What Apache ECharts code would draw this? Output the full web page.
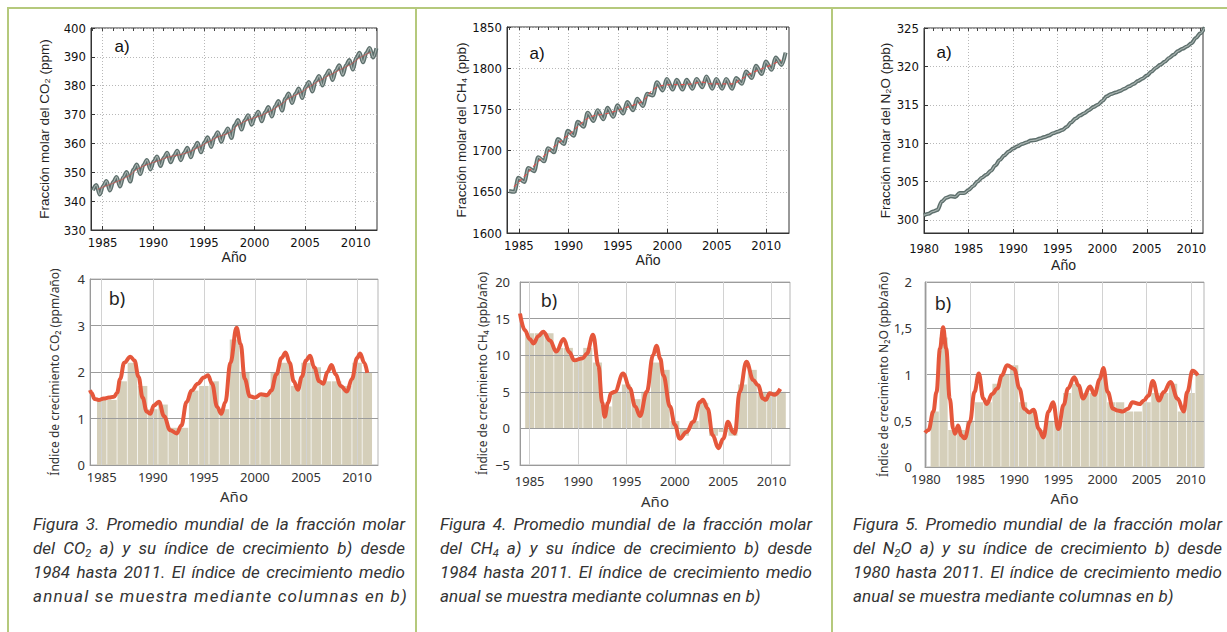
<!DOCTYPE html>
<html>
<head>
<meta charset="utf-8">
<script src="https://cdn.jsdelivr.net/npm/echarts@6/dist/echarts.min.js"></script>
<style>
  body { margin: 0; background: #fff; }
  #wrap { position: relative; width: 1227px; height: 632px; overflow: hidden; background: #fff; }
  #chart { position: absolute; left: 0; top: 0; width: 1227px; height: 632px; }
  .rule { position: absolute; background: #b5c97c; }
  .cap { position: absolute; height: 24px; line-height: 24px; white-space: nowrap;
         font-family: Roboto, 'Liberation Sans', sans-serif; font-style: italic; font-size: 17px; color: #333; }
  .cap.j { text-align: justify; text-align-last: justify; }
  .cap sub { font-size: 11px; line-height: 0; vertical-align: -3px; }
</style>
</head>
<body>
<div id="wrap">
  <div id="chart"></div>
  <div class="rule" style="left:7px;top:7px;width:1220px;height:2px"></div>
  <div class="rule" style="left:7px;top:7px;width:2px;height:625px"></div>
  <div class="rule" style="left:415px;top:7px;width:2px;height:625px"></div>
  <div class="rule" style="left:831px;top:7px;width:2px;height:625px"></div>

  <div class="cap j" style="left:33px;top:512px;width:372px">Figura 3. Promedio mundial de la fracción molar</div>
  <div class="cap j" style="left:33px;top:536px;width:372px">del CO<sub>2</sub> a) y su índice de crecimiento b) desde</div>
  <div class="cap j" style="left:33px;top:560px;width:372px">1984 hasta 2011. El índice de crecimiento medio</div>
  <div class="cap j" style="left:33px;top:584px;width:370px;letter-spacing:1.2px">annual se muestra mediante columnas en b)</div>

  <div class="cap j" style="left:440px;top:512px;width:372px">Figura 4. Promedio mundial de la fracción molar</div>
  <div class="cap j" style="left:440px;top:536px;width:372px">del CH<sub>4</sub> a) y su índice de crecimiento b) desde</div>
  <div class="cap j" style="left:440px;top:560px;width:372px">1984 hasta 2011. El índice de crecimiento medio</div>
  <div class="cap" style="left:440px;top:584px;letter-spacing:0.1px">anual se muestra mediante columnas en b)</div>

  <div class="cap j" style="left:853px;top:512px;width:369px">Figura 5. Promedio mundial de la fracción molar</div>
  <div class="cap j" style="left:853px;top:536px;width:369px">del N<sub>2</sub>O a) y su índice de crecimiento b) desde</div>
  <div class="cap j" style="left:853px;top:560px;width:369px">1980 hasta 2011. El índice de crecimiento medio</div>
  <div class="cap" style="left:853px;top:584px;letter-spacing:0.1px">anual se muestra mediante columnas en b)</div>
</div>

<script>
// ---- data ----
const years = [1984, 1985, 1986, 1987, 1988, 1989, 1990, 1991, 1992, 1993, 1994, 1995, 1996, 1997,
  1998, 1999, 2000, 2001, 2002, 2003, 2004, 2005, 2006, 2007, 2008, 2009, 2010, 2011];

// CO2 (ppm): January, seasonal max (~May), seasonal min (~Sep), annual mean
const co2Jan = [343.8, 345.2, 346.6, 348.3, 350.9, 352.5, 353.7, 355.0, 355.7, 356.7, 358.4, 360.3, 362.1, 363.4,
  366.3, 368.0, 369.2, 370.8, 372.9, 375.5, 377.2, 379.5, 381.6, 383.5, 385.3, 387.1, 389.6, 391.3, 393.0];
const co2Peak = [345.6, 347.0, 348.4, 350.1, 352.7, 354.3, 355.5, 356.8, 357.5, 358.5, 360.2, 362.1, 363.9, 365.2,
  368.1, 369.8, 371.0, 372.6, 374.7, 377.3, 379.0, 381.3, 383.4, 385.3, 387.1, 388.9, 391.4, 393.1];
const co2Trough = [342.3, 343.7, 345.1, 346.8, 349.4, 351.0, 352.2, 353.5, 354.2, 355.2, 356.9, 358.8, 360.6, 361.9,
  364.8, 366.5, 367.7, 369.3, 371.4, 374.0, 375.7, 378.0, 380.1, 382.0, 383.8, 385.6, 388.1, 389.8];
const co2Mean = [344.1, 345.5, 346.9, 348.6, 351.2, 352.8, 354.0, 355.3, 356.0, 357.0, 358.7, 360.6, 362.4, 363.7,
  366.6, 368.3, 369.5, 371.1, 373.2, 375.8, 377.5, 379.8, 381.9, 383.8, 385.6, 387.4, 389.9, 391.6];

// CH4 (ppb): seasonal min (~Jul), seasonal max (~Dec), annual mean
const ch4First = [1984.0, 1651];
const ch4Min = [1650, 1662, 1675, 1687, 1698, 1708, 1718, 1729, 1736, 1738, 1741, 1745, 1749, 1754,
  1767, 1773, 1774, 1774, 1775, 1777, 1775, 1775, 1775, 1781, 1788, 1793, 1798, 1804];
const ch4Max = [1667, 1679, 1692, 1703, 1714, 1724, 1735, 1746, 1749, 1752, 1755, 1759, 1763, 1769,
  1783, 1787, 1786, 1786, 1787, 1790, 1787, 1787, 1788, 1796, 1803, 1808, 1813, 1819];
const ch4Mean = [1656, 1668, 1681, 1693, 1704, 1714, 1724, 1735, 1742, 1744, 1747, 1751, 1755, 1760,
  1773, 1779, 1780, 1780, 1781, 1783, 1781, 1781, 1781, 1787, 1794, 1799, 1804, 1810];

// N2O (ppb), every half year from 1980.0
const n2oStart = 1980;
const n2oValues = [300.6, 300.8, 301.1, 301.3, 302.4, 302.9, 303.1, 303.0, 303.5, 303.5, 303.9, 304.4,
  305.0, 305.5, 305.9, 306.4, 307.1, 307.8, 308.4, 308.9, 309.3, 309.6, 309.9, 310.1, 310.35, 310.4,
  310.6, 310.8, 311.0, 311.3, 311.5, 311.7, 312.1, 312.7, 313.2, 313.6, 313.9, 314.3, 314.7, 315.0,
  315.5, 316.1, 316.4, 316.6, 316.8, 317.1, 317.4, 317.7, 318.1, 318.4, 318.8, 319.3, 319.8, 320.2,
  320.6, 321.1, 321.5, 322.0, 322.3, 322.6, 323.0, 323.7, 324.3, 325.1];

// annual growth rate columns
const rateYears = [1985, 1986, 1987, 1988, 1989, 1990, 1991, 1992, 1993, 1994, 1995, 1996, 1997, 1998,
  1999, 2000, 2001, 2002, 2003, 2004, 2005, 2006, 2007, 2008, 2009, 2010, 2011];
const co2Rate = [1.4, 1.4, 1.8, 2.2, 1.7, 1.2, 1.3, 0.8, 0.8, 1.6, 1.7, 1.8, 1.2, 2.7,
  2.0, 1.4, 1.5, 2.0, 2.2, 1.7, 2.2, 2.1, 1.8, 1.8, 1.7, 2.2, 2.0];
const ch4Rate = [13, 13, 13, 11, 11, 9.5, 11, 9, 3, 5, 6, 4, 5, 9,
  8, 1, -1, 1, 3.5, -1, -0.5, -1, 6, 8, 5, 5, 5];
const n2oRateYears = [1981, 1982, 1983, 1984, 1985, 1986, 1987, 1988, 1989, 1990, 1991, 1992, 1993, 1994,
  1995, 1996, 1997, 1998, 1999, 2000, 2001, 2002, 2003, 2004, 2005, 2006, 2007, 2008, 2009, 2010, 2011];
const n2oRate = [0.6, 1.4, 0.4, 0.4, 0.5, 0.7, 0.7, 0.9, 1.0, 1.1, 0.7, 0.6, 0.4, 0.5,
  0.5, 0.8, 0.9, 0.8, 0.8, 1.0, 0.7, 0.7, 0.6, 0.6, 0.7, 0.8, 0.8, 0.9, 0.6, 0.8, 1.0];

// smoothed growth rate curves [year, rate]
const co2RateCurve = [[1983.85, 1.61], [1984.0, 1.55], [1984.3, 1.42], [1984.7, 1.40], [1985.2, 1.43], [1985.7, 1.45],
  [1986.2, 1.47], [1986.5, 1.55], [1986.8, 1.85], [1987.2, 2.2], [1987.8, 2.33], [1988.2, 2.25], [1988.6, 1.9],
  [1989.0, 1.45], [1989.4, 1.15], [1989.75, 1.1], [1990.1, 1.28], [1990.6, 1.36], [1991.1, 1.05], [1991.7, 0.75],
  [1992.35, 0.68], [1992.8, 0.85], [1993.3, 1.35], [1993.8, 1.6], [1994.4, 1.75], [1995.0, 1.88], [1995.4, 1.93],
  [1995.8, 1.75], [1996.3, 1.25], [1996.7, 1.1], [1997.1, 1.35], [1997.6, 2.2], [1998.2, 2.95], [1998.6, 2.6],
  [1999.0, 1.85], [1999.5, 1.48], [2000.0, 1.45], [2000.6, 1.52], [2001.2, 1.5], [2001.6, 1.6], [2002.1, 1.95],
  [2002.6, 2.3], [2003.0, 2.42], [2003.4, 2.2], [2003.8, 1.8], [2004.2, 1.62], [2004.6, 1.9], [2005.0, 2.25],
  [2005.4, 2.35], [2005.8, 2.1], [2006.3, 1.8], [2006.7, 1.75], [2007.1, 2.0], [2007.5, 2.15], [2007.9, 1.95],
  [2008.4, 1.7], [2009.0, 1.58], [2009.5, 1.85], [2010.0, 2.3], [2010.3, 2.4], [2010.7, 2.2], [2011.0, 1.98]];
const ch4RateCurve = [[1984.0, 15.7], [1984.5, 13.4], [1985.0, 12.2], [1985.4, 11.6], [1985.9, 12.6], [1986.4, 13.2],
  [1987.1, 12.0], [1987.75, 10.5], [1988.5, 12.2], [1989.1, 10.4], [1989.6, 9.3], [1990.5, 9.6], [1990.9, 10.2],
  [1991.55, 12.8], [1992.1, 8.6], [1992.5, 3.5], [1992.75, 1.6], [1993.1, 3.5], [1993.4, 4.8], [1993.8, 5.0],
  [1994.65, 7.5], [1995.35, 5.5], [1995.9, 3.0], [1996.4, 1.7], [1997.1, 5.0], [1997.75, 10.0], [1998.1, 11.3],
  [1998.5, 9.5], [1998.8, 7.3], [1999.5, 3.0], [2000.0, 0.5], [2000.5, -1.4], [2001.2, -0.5], [2001.9, 0.9],
  [2002.6, 3.6], [2002.9, 3.9], [2003.4, 2.7], [2003.9, -0.9], [2004.5, -2.7], [2005.0, -1.4], [2005.5, 0.9],
  [2006.0, -0.5], [2006.2, -0.7], [2006.7, 5.0], [2007.4, 9.1], [2008.1, 6.6], [2008.6, 5.9], [2009.1, 4.1],
  [2009.4, 3.9], [2009.8, 4.8], [2010.3, 4.6], [2010.9, 5.4]];
const n2oRateCurve = [[1979.9, 0.37], [1980.3, 0.40], [1980.85, 0.6], [1981.2, 0.81], [1981.6, 1.28], [1981.95, 1.51],
  [1982.3, 1.28], [1982.7, 0.74], [1983.1, 0.41], [1983.3, 0.36], [1983.65, 0.45], [1984.0, 0.34], [1984.4, 0.31],
  [1985.0, 0.49], [1985.5, 0.81], [1986.0, 1.01], [1986.5, 0.74], [1986.9, 0.68], [1987.5, 0.79], [1988.1, 0.85],
  [1988.6, 0.99], [1989.2, 1.10], [1990.0, 1.06], [1990.6, 0.85], [1991.15, 0.63], [1991.7, 0.59], [1992.2, 0.62],
  [1992.8, 0.41], [1993.3, 0.32], [1993.9, 0.6], [1994.4, 0.7], [1995.0, 0.41], [1995.6, 0.67], [1996.1, 0.85],
  [1996.8, 0.97], [1997.3, 0.88], [1997.8, 0.74], [1998.6, 0.87], [1999.1, 0.78], [1999.7, 0.95], [2000.1, 1.07],
  [2000.6, 0.81], [2001.2, 0.63], [2001.7, 0.61], [2002.3, 0.60], [2002.9, 0.63], [2003.4, 0.70], [2004.2, 0.68],
  [2004.7, 0.72], [2005.2, 0.77], [2005.7, 0.93], [2006.4, 0.72], [2006.95, 0.81], [2007.7, 0.92], [2008.5, 0.74],
  [2009.2, 0.6], [2009.6, 0.81], [2010.2, 1.04], [2010.8, 0.99]];

// tick labels
const yearTicks84 = [1985, 1990, 1995, 2000, 2005, 2010];
const yearTicks80 = [1980, 1985, 1990, 1995, 2000, 2005, 2010];
const co2Ticks = [330, 340, 350, 360, 370, 380, 390, 400];
const co2RateTicks = [0, 1, 2, 3, 4];
const ch4Ticks = [1600, 1650, 1700, 1750, 1800, 1850];
const ch4RateTicks = [-5, 0, 5, 10, 15, 20];
const n2oTicks = [300, 305, 310, 315, 320, 325];
const n2oRateTicks = [0, 0.5, 1, 1.5, 2];

// ---- build series data ----
const co2Cycle = [];
years.forEach((y, i) => {
  co2Cycle.push([y + 0.04, co2Jan[i]], [y + 0.37, co2Peak[i]], [y + 0.72, co2Trough[i]]);
});
co2Cycle.push([2012.04, co2Jan[years.length]]);
const co2Trend = years.map((y, i) => [y + 0.5, co2Mean[i]]);

const ch4Cycle = [ch4First];
years.forEach((y, i) => {
  ch4Cycle.push([y + 0.55, ch4Min[i]], [y + 0.95, ch4Max[i]]);
});
const ch4Trend = years.map((y, i) => [y + 0.5, ch4Mean[i]]);

const n2oLine = n2oValues.map((v, i) => [n2oStart + i * 0.5, v]);

const co2Bars = rateYears.map((y, i) => [y, co2Rate[i]]);
const ch4Bars = rateYears.map((y, i) => [y, ch4Rate[i]]);
const n2oBars = n2oRateYears.map((y, i) => [y, n2oRate[i]]);

// ---- styling helpers ----
const NARROW = "'Liberation Sans Narrow', 'DejaVu Sans Condensed', sans-serif";
const SANS = "'Liberation Sans', Arial, sans-serif";
const HUMAN = "'Noto Sans', 'Open Sans', sans-serif";
const BAND = '#5d6f6c', BAND_IN = '#a9b4b1', TREND = '#d9534f';
const RATE = '#e5573b', BAR = '#d5cfba';

function wholeYears(min, max) {
  const out = [];
  for (let y = Math.ceil(min); y <= Math.floor(max); y++) out.push(y);
  return out;
}

function aX(grid, min, max, ticks, nameGap, margin) {
  return [{
    type: 'value', gridIndex: grid, min: min, max: max,
    name: 'Año', nameLocation: 'middle', nameGap: nameGap,
    nameTextStyle: { fontFamily: SANS, fontSize: 14, color: '#222' },
    axisLine: { onZero: false, lineStyle: { color: '#333' } },
    axisTick: { inside: true, length: 4, customValues: ticks, lineStyle: { color: '#333' } },
    axisLabel: { customValues: ticks, margin: margin, fontFamily: NARROW, fontSize: 13, color: '#111',
      formatter: v => String(v) },
    splitLine: { show: true, lineStyle: { color: '#b8b8b8', type: [1, 2] } }
  }, {
    type: 'value', gridIndex: grid, min: min, max: max, position: 'top',
    axisLine: { show: false },
    axisTick: { inside: true, length: 3, customValues: wholeYears(min, max), lineStyle: { color: '#444' } },
    axisLabel: { show: false },
    splitLine: { show: false }
  }];
}

function aY(grid, min, max, ticks, name, nameGap) {
  return {
    type: 'value', gridIndex: grid, min: min, max: max,
    name: name, nameLocation: 'middle', nameGap: nameGap,
    nameTextStyle: { fontFamily: SANS, fontSize: 13.5, color: '#222' },
    axisLine: { onZero: false, lineStyle: { color: '#333' } },
    axisTick: { inside: true, length: 4, customValues: ticks, lineStyle: { color: '#333' } },
    axisLabel: { customValues: ticks, margin: 5, fontFamily: NARROW, fontSize: 13, color: '#111',
      formatter: v => String(v) },
    splitLine: { show: true, lineStyle: { color: '#b8b8b8', type: [1, 2] } }
  };
}

function bX(grid, min, max, ticks, nameGap, margin) {
  return {
    type: 'value', gridIndex: grid, min: min, max: max, z: 3,
    name: 'Año', nameLocation: 'middle', nameGap: nameGap,
    nameTextStyle: { fontFamily: HUMAN, fontSize: 15, color: '#333' },
    axisLine: { onZero: false, lineStyle: { color: '#9a9a9a' } },
    axisTick: { show: false, customValues: ticks },
    axisLabel: { customValues: ticks, margin: margin, fontFamily: HUMAN, fontSize: 13, color: '#333',
      formatter: v => String(v) },
    splitLine: { show: true, lineStyle: { color: '#d2d2d2' } }
  };
}

function bY(grid, min, max, ticks, name, nameGap, margin, fmt) {
  return {
    type: 'value', gridIndex: grid, min: min, max: max, z: 3,
    name: name, nameLocation: 'middle', nameGap: nameGap,
    nameTextStyle: { fontFamily: HUMAN, fontSize: 12, color: '#333' },
    axisLine: { onZero: false, lineStyle: { color: '#9a9a9a' } },
    axisTick: { show: false, customValues: ticks },
    axisLabel: { customValues: ticks, margin: margin, fontFamily: HUMAN, fontSize: 13, color: '#333',
      formatter: fmt || (v => String(v)) },
    splitLine: { show: true, lineStyle: { color: '#9c9c9c' } }
  };
}

function cycleSeries(xi, yi, data) {
  return [
    { type: 'line', xAxisIndex: xi, yAxisIndex: yi, data: data, smooth: 0.35, smoothMonotone: 'x',
      showSymbol: false, silent: true, z: 2, lineStyle: { width: 4, color: BAND } },
    { type: 'line', xAxisIndex: xi, yAxisIndex: yi, data: data, smooth: 0.35, smoothMonotone: 'x',
      showSymbol: false, silent: true, z: 3, lineStyle: { width: 1.2, color: BAND_IN } }
  ];
}

function rateSeries(xi, yi, bars, curve) {
  return [
    { type: 'bar', xAxisIndex: xi, yAxisIndex: yi, data: bars, barWidth: '93%', z: 1, silent: true,
      itemStyle: { color: BAR } },
    { type: 'line', xAxisIndex: xi, yAxisIndex: yi, data: curve, smooth: 0.4, smoothMonotone: 'x',
      showSymbol: false, silent: true, z: 5, lineStyle: { width: 4, color: RATE } }
  ];
}

const chart = echarts.init(document.getElementById('chart'), null, { renderer: 'svg' });

const option = {
  animation: false,
  backgroundColor: 'transparent',
  grid: [
    { left: 91, top: 28, width: 286, height: 202, show: true, borderColor: '#333', borderWidth: 1 },
    { left: 90, top: 279, width: 288, height: 186, show: true, borderColor: '#b5b5b5', borderWidth: 1 },
    { left: 507, top: 27, width: 282, height: 206, show: true, borderColor: '#333', borderWidth: 1 },
    { left: 520, top: 282, width: 270, height: 183, show: true, borderColor: '#b5b5b5', borderWidth: 1 },
    { left: 924, top: 28, width: 279, height: 205, show: true, borderColor: '#333', borderWidth: 1 },
    { left: 925, top: 282, width: 279, height: 185, show: true, borderColor: '#b5b5b5', borderWidth: 1 }
  ],
  xAxis: [
    ...aX(0, 1983.85, 2012.1, yearTicks84, 20, 6),      // 0,1
    bX(1, 1983.85, 2012.05, yearTicks84, 23, 5),        // 2
    ...aX(2, 1983.8, 2012.3, yearTicks84, 18, 6),       // 3,4
    bX(3, 1984.0, 2011.9, yearTicks84, 28, 9),          // 5
    ...aX(4, 1980.0, 2011.3, yearTicks80, 25, 9),       // 6,7
    bX(5, 1979.9, 2011.5, yearTicks80, 23, 5)           // 8
  ],
  yAxis: [
    aY(0, 330, 400, co2Ticks, 'Fracción molar del CO₂ (ppm)', 40),
    bY(1, 0, 4, co2RateTicks, 'Índice de crecimiento CO₂ (ppm/año)', 30, 5),
    aY(2, 1600, 1850, ch4Ticks, 'Fracción molar del CH₄ (ppb)', 37),
    bY(3, -5, 20, ch4RateTicks, 'Índice de crecimiento CH₄ (ppb/año)', 32, 10,
      v => (v < 0 ? '−' + Math.abs(v) : String(v))),
    aY(4, 298.3, 325, n2oTicks, 'Fracción molar del N₂O (ppb)', 29),
    bY(5, 0, 2, n2oRateTicks, 'Índice de crecimiento N₂O (ppb/año)', 30, 13,
      v => String(v).replace('.', ','))
  ],
  graphic: [
    { type: 'text', x: 122, y: 46, style: { text: 'a)', fontFamily: SANS, fontSize: 17, fill: '#111', align: 'center', verticalAlign: 'middle' } },
    { type: 'text', x: 537, y: 53, style: { text: 'a)', fontFamily: SANS, fontSize: 17, fill: '#111', align: 'center', verticalAlign: 'middle' } },
    { type: 'text', x: 944, y: 52, style: { text: 'a)', fontFamily: SANS, fontSize: 17, fill: '#111', align: 'center', verticalAlign: 'middle' } },
    { type: 'text', x: 117, y: 298, style: { text: 'b)', fontFamily: HUMAN, fontSize: 18, fill: '#222', align: 'center', verticalAlign: 'middle' } },
    { type: 'text', x: 549, y: 300, style: { text: 'b)', fontFamily: HUMAN, fontSize: 18, fill: '#222', align: 'center', verticalAlign: 'middle' } },
    { type: 'text', x: 943, y: 303, style: { text: 'b)', fontFamily: HUMAN, fontSize: 18, fill: '#222', align: 'center', verticalAlign: 'middle' } }
  ],
  series: [
    ...cycleSeries(0, 0, co2Cycle),
    { type: 'line', xAxisIndex: 0, yAxisIndex: 0, data: co2Trend, smooth: true, showSymbol: false, silent: true,
      z: 4, lineStyle: { width: 1, color: TREND, opacity: 0.7 } },
    ...rateSeries(2, 1, co2Bars, co2RateCurve),

    ...cycleSeries(3, 2, ch4Cycle),
    { type: 'line', xAxisIndex: 3, yAxisIndex: 2, data: ch4Trend, smooth: true, showSymbol: false, silent: true,
      z: 4, lineStyle: { width: 1.2, color: TREND, type: [4, 3] } },
    ...rateSeries(5, 3, ch4Bars, ch4RateCurve),

    ...cycleSeries(6, 4, n2oLine),
    ...rateSeries(8, 5, n2oBars, n2oRateCurve)
  ]
};

chart.setOption(option);
window.addEventListener('resize', () => chart.resize());
</script>
</body>
</html>
